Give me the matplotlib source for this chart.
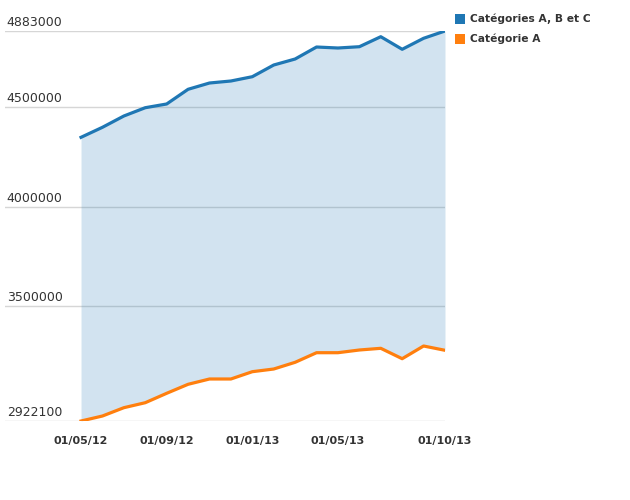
import matplotlib
matplotlib.use("Agg")
import matplotlib.pyplot as plt
from matplotlib.patches import Rectangle

# data (monthly, 01/05/12 .. 01/10/13)
months = ["01/05/12", "01/06/12", "01/07/12", "01/08/12", "01/09/12", "01/10/12",
          "01/11/12", "01/12/12", "01/01/13", "01/02/13", "01/03/13", "01/04/13",
          "01/05/13", "01/06/13", "01/07/13", "01/08/13", "01/09/13", "01/10/13"]
total_abc = [4348500, 4398800, 4455600, 4497300, 4516000, 4589900,
             4621500, 4631600, 4653200, 4712000, 4742200, 4802500,
             4797500, 4804000, 4854300, 4791000, 4846300, 4883000]
cat_a = [2922100, 2947200, 2989000, 3014100, 3061400, 3106600,
         3133300, 3133300, 3170000, 3183500, 3217200, 3265500,
         3265500, 3279100, 3287600, 3235300, 3299200, 3277600]
y_ticks = [2922100, 3500000, 4000000, 4500000, 4883000]
x_tick_idx = [0, 4, 8, 12, 17]
series_names = ["Catégories A, B et C", "Catégorie A"]

blue = "#1f77b4"
orange = "#ff7f0e"
text_col = "#333333"

fig = plt.figure(figsize=(6.3, 5), dpi=100)
ax = fig.add_axes([5 / 630, 1 - 421 / 500, 440 / 630, 390 / 500])

x = list(range(len(months)))

# gridlines under the fill
for v in y_ticks:
    ax.axhline(v, color="#d6d6d6", lw=1, zorder=1)

# only the band between the two series is shaded
ax.fill_between(x, cat_a, total_abc, color=blue, alpha=0.2, lw=0, zorder=2)
ax.plot(x, total_abc, color=blue, lw=2.3, zorder=3, solid_joinstyle="round")
ax.plot(x, cat_a, color=orange, lw=2.3, zorder=3, solid_joinstyle="round")

ax.set_xlim(-76 / 21.4, 17)
ax.set_ylim(y_ticks[0], y_ticks[-1])
for s in ax.spines.values():
    s.set_visible(False)
ax.set_yticks([])
ax.set_xticks(x_tick_idx)
ax.set_xticklabels([months[i] for i in x_tick_idx], fontsize=8, fontweight="bold",
                   color=text_col)
ax.tick_params(axis="x", length=0, pad=11)

# y labels sit above their gridline
for v in y_ticks:
    ax.annotate(str(v), xy=(0, v), xycoords=("axes fraction", "data"),
                xytext=(1.3, 1.5), textcoords="offset points",
                fontsize=9, color=text_col, va="bottom", ha="left")

# legend drawn by hand
for i, (name, c) in enumerate(zip(series_names, [blue, orange])):
    yc = 1 - (19 + 20 * i) / 500
    fig.add_artist(Rectangle((455 / 630, yc - 5 / 500), 10 / 630, 10 / 500,
                             transform=fig.transFigure, color=c, lw=0))
    fig.text(470 / 630, yc, name, fontsize=7.7, fontweight="bold", color=text_col,
             va="center", ha="left")

fig.savefig("out.png", dpi=100)
